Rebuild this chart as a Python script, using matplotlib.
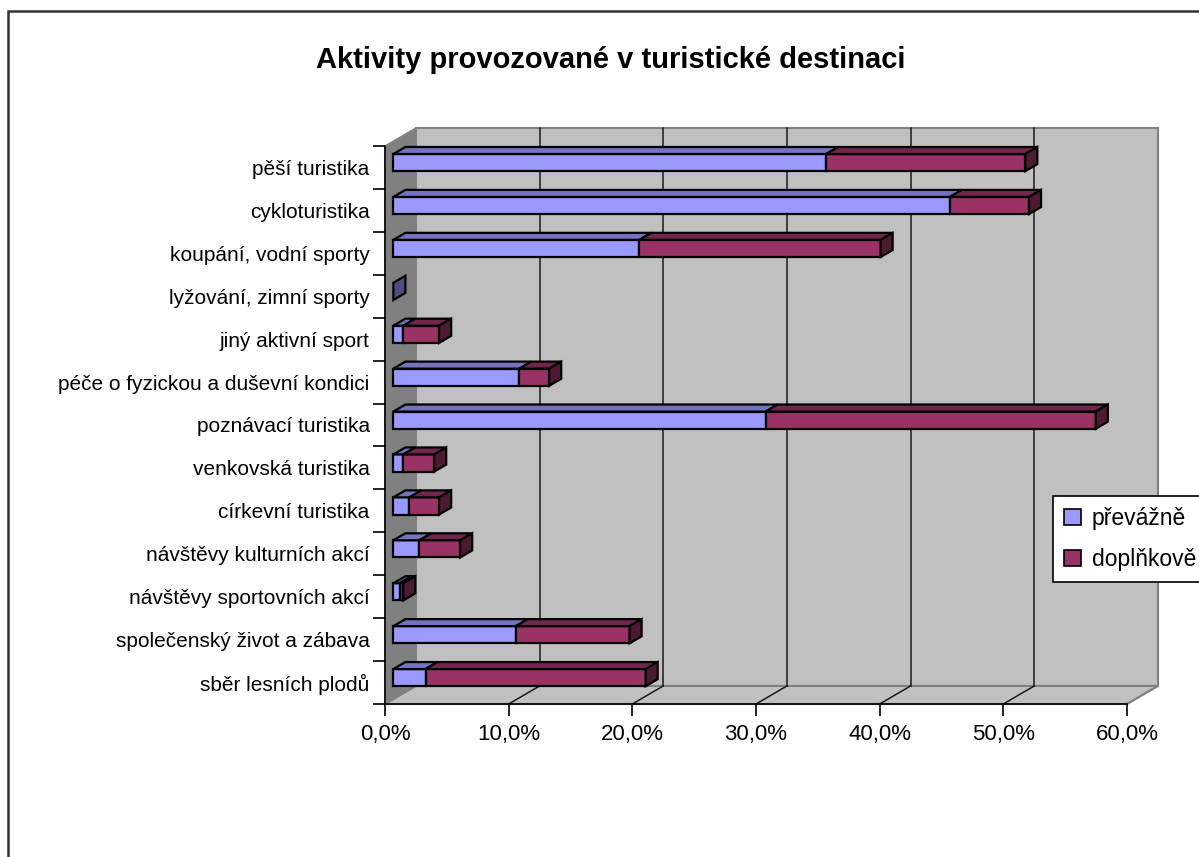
import matplotlib
matplotlib.use("Agg")
import matplotlib.pyplot as plt
from matplotlib.patches import Polygon, Rectangle, Patch

plt.rcParams["font.family"] = ["Liberation Sans", "DejaVu Sans"]

# data (percent)
categories = [
    "pěší turistika",
    "cykloturistika",
    "koupání, vodní sporty",
    "lyžování, zimní sporty",
    "jiný aktivní sport",
    "péče o fyzickou a duševní kondici",
    "poznávací turistika",
    "venkovská turistika",
    "církevní turistika",
    "návštěvy kulturních akcí",
    "návštěvy sportovních akcí",
    "společenský život a zábava",
    "sběr lesních plodů",
]
prevazne = [35.0, 45.0, 19.9, 0.0, 0.8, 10.2, 30.1, 0.8, 1.3, 2.1, 0.5, 9.9, 2.6]
doplnkove = [16.1, 6.4, 19.5, 0.0, 2.9, 2.4, 26.7, 2.5, 2.4, 3.3, 0.3, 9.2, 17.8]
series_names = ["převážně", "doplňkově"]
xticks = [0, 10, 20, 30, 40, 50, 60]

# colours: front, top, side
BLUE = ("#9999FF", "#7373BF", "#4D4D80")
MAROON = ("#993366", "#73264D", "#4D1A33")

# oblique depth (full depth of the plot box) in data units
DX = 2.5
DY = 0.42
D0, D1 = 0.27, 0.66  # bar depth range (fraction of full depth)
BAR_H = 0.40
XMAX = 60

fig = plt.figure(figsize=(11.99, 8.57), dpi=100)
ax = fig.add_axes([385 / 1199, 1 - 704 / 857, (1127 - 385) / 1199, (704 - 146) / 857])
ax.set_xlim(0, XMAX)
ax.set_ylim(len(categories) - 0.5, -0.5)
ax.patch.set_visible(False)

n = len(categories)
top, bot = -0.5, n - 0.5


def poly(pts, fc, ec="black", lw=1.6, z=3):
    ax.add_patch(Polygon(pts, closed=True, facecolor=fc, edgecolor=ec,
                         linewidth=lw, zorder=z, clip_on=False, joinstyle="miter"))


# walls
poly([(DX, top - DY), (XMAX + DX, top - DY), (XMAX + DX, bot - DY), (DX, bot - DY)],
     "#C0C0C0", ec="#808080", lw=1.5, z=0)
poly([(0, top), (DX, top - DY), (DX, bot - DY), (0, bot)], "#808080", ec="#808080", lw=1, z=0.5)
poly([(0, bot), (XMAX, bot), (XMAX + DX, bot - DY), (DX, bot - DY)],
     "#C0C0C0", ec="#808080", lw=1.5, z=0.5)

# grid lines on back wall and floor
for v in xticks[1:]:
    if v < XMAX:
        ax.plot([v + DX, v + DX], [top - DY, bot - DY], color="#1a1a1a", lw=1.1, zorder=0.8,
                clip_on=False)
    ax.plot([v, v + DX], [bot, bot - DY], color="#1a1a1a" if v < XMAX else "#808080",
            lw=1.1, zorder=0.8, clip_on=False)

ox0, oy0 = D0 * DX, -D0 * DY
ox1, oy1 = D1 * DX, -D1 * DY


def box(i, a, b, cols, side):
    yt = i + oy0 - BAR_H / 2
    yb = i + oy0 + BAR_H / 2
    dyy = oy1 - oy0
    if b > a:
        poly([(a + ox0, yt), (b + ox0, yt), (b + ox0, yb), (a + ox0, yb)], cols[0])
        poly([(a + ox0, yt), (b + ox0, yt), (b + ox1, yt + dyy), (a + ox1, yt + dyy)], cols[1])
    if side:
        poly([(b + ox0, yt), (b + ox1, yt + dyy), (b + ox1, yb + dyy), (b + ox0, yb)], cols[2])


for i, (p, d) in enumerate(zip(prevazne, doplnkove)):
    box(i, 0, p, BLUE, side=(d == 0))
    if d > 0:
        box(i, p, p + d, MAROON, side=True)

# axes
for s in ["top", "right"]:
    ax.spines[s].set_visible(False)
for s in ["left", "bottom"]:
    ax.spines[s].set_color("black")
    ax.spines[s].set_linewidth(1.2)
    ax.spines[s].set_zorder(2)

ax.set_xticks(xticks)
ax.set_xticklabels([f"{v:.1f}%".replace(".", ",") for v in xticks], fontsize=16)
ax.tick_params(axis="x", length=8.5, width=1.2, pad=6, color="black")

ax.set_yticks([k - 0.5 for k in range(n + 1)])
ax.set_yticklabels([])
ax.tick_params(axis="y", which="major", length=8.5, width=1.2, color="black")
ax.set_yticks(range(n), minor=True)
ax.set_yticklabels(categories, minor=True, fontsize=15)
ax.tick_params(axis="y", which="minor", length=0, pad=11)

fig.text(611 / 1199, 1 - 60 / 857, "Aktivity provozované v turistické destinaci",
         ha="center", va="center", fontsize=21, fontweight="bold")

handles = [Patch(facecolor=BLUE[0], edgecolor="black", linewidth=1.2),
           Patch(facecolor=MAROON[0], edgecolor="black", linewidth=1.2)]
leg = fig.legend(handles, series_names, loc="upper left",
                 bbox_to_anchor=(1053 / 1199, 1 - 496 / 857), fontsize=16.5,
                 frameon=True, fancybox=False, shadow=False, handlelength=0.7,
                 handleheight=0.7, handletextpad=0.5, borderpad=0.5, labelspacing=0.75,
                 borderaxespad=0, framealpha=1)
leg.get_frame().set_edgecolor("black")
leg.get_frame().set_facecolor("white")
leg.get_frame().set_linewidth(1.2)

# chart border
fig.add_artist(Rectangle((8 / 1199, -0.1), 1.2, 1.1 - 11 / 857, transform=fig.transFigure,
                         fill=False, edgecolor="#333333", linewidth=1.8))

fig.savefig("out.png", dpi=100)
